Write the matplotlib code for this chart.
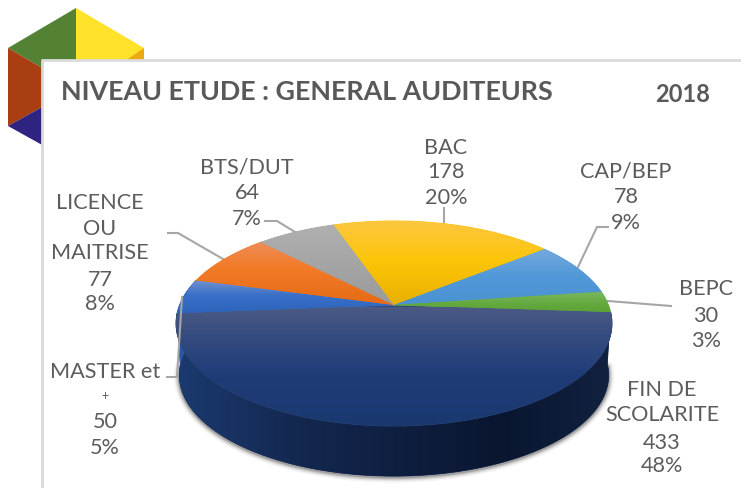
import numpy as np
import matplotlib
matplotlib.use("Agg")
import matplotlib.pyplot as plt
from matplotlib.patches import Polygon
from matplotlib.colors import LinearSegmentedColormap

categories = ["FIN DE\nSCOLARITE", "MASTER et\n+", "LICENCE\nOU\nMAITRISE", "BTS/DUT", "BAC", "CAP/BEP", "BEPC"]
values = [433, 50, 77, 64, 178, 78, 30]
percent_labels = ["48%", "5%", "8%", "7%", "20%", "9%", "3%"]
title = "NIVEAU ETUDE : GENERAL AUDITEURS"
year = "2018"

W, H = 741, 489
plt.rcParams['font.family'] = ['Lato', 'DejaVu Sans']
fig = plt.figure(figsize=(W / 100, H / 100), dpi=100, facecolor='white')
ax = fig.add_axes([0, 0, 1, 1])
ax.set_xlim(0, W); ax.set_ylim(H, 0); ax.axis('off')

# --- decorative hexagon behind the card
for pts, c in [
    ([(76, 9), (144, 49), (144, 62), (76, 62)], '#FFE229'),
    ([(125, 62), (144, 49), (144, 62)], '#EBAA14'),
    ([(76, 9), (8, 49), (44, 70), (76, 62)], '#548235'),
    ([(8, 49), (8, 127), (44, 107), (44, 70)], '#A83E12'),
    ([(8, 127), (44, 107), (44, 147)], '#2E2380'),
]:
    ax.add_patch(Polygon(pts, closed=True, fc=c, ec='none', zorder=1))
ax.add_patch(Polygon([(42, 61), (W, 61), (W, H), (42, H)], closed=True, fc='white', ec='none', zorder=2))
ax.plot([42, 42], [H, 61], color='#d9d9d9', lw=2.0, zorder=3, solid_capstyle='butt')
ax.plot([41, W], [61, 61], color='#dcdcdc', lw=2.0, zorder=3, solid_capstyle='butt')

# --- perspective pie geometry
CX, CY, A, B, P = 394.0, 306.0, 214.4, 99.2, 0.18
DY, S = 52.0, 0.985
START = -4.0

def rim(theta, depth=False):
    t = np.radians(theta)
    w = 1 + P * np.sin(t)
    x = A * np.cos(t) / w
    y = B * np.sin(t) / w
    if depth:
        return CX + S * x, CY + DY - S * y
    return CX + x, CY - y

total = sum(values)
spans = [v / total * 360 for v in values]
edges = START - np.concatenate([[0], np.cumsum(spans)])

def gradient(stops, vertical, lo, hi, clip, z):
    pos = [float(np.clip((s[0] - lo) / (hi - lo), 0, 1)) for s in stops]
    cols = [s[1] for s in stops]
    if pos[0] > 0:
        pos = [0.0] + pos; cols = [cols[0]] + cols
    if pos[-1] < 1:
        pos = pos + [1.0]; cols = cols + [cols[-1]]
    cmap = LinearSegmentedColormap.from_list('g', list(zip(pos, cols)))
    g = np.linspace(0, 1, 256)
    arr = g[:, None] if vertical else g[None, :]
    im = ax.imshow(arr, cmap=cmap, vmin=0, vmax=1, aspect='auto', origin='upper',
                   extent=(0, W, hi, lo) if vertical else (lo, hi, H, 0),
                   zorder=z, interpolation='bilinear')
    patch = Polygon(clip, closed=True, transform=ax.transData, fc='none', ec='none')
    ax.add_patch(patch)
    im.set_clip_path(patch)

# --- soft shadow under the body
th = np.linspace(-175, -5, 200)
sx, sy = rim(th, True)
for lw, a in [(11, .05), (8, .08), (6, .10), (4, .14), (2.5, .2)]:
    ax.plot(sx, sy + 1, color='#303030', lw=lw * .72, alpha=a, zorder=4, solid_capstyle='round')

# --- side walls (only the front wedges show)
side_stops = [
    [(176, '#1b3a70'), (300, '#13274f'), (500, '#0a1630'), (612, '#11213f')],
    [(176, '#2a5cae'), (190, '#264f98')],
]
for i in range(len(side_stops)):
    th = np.linspace(edges[i], edges[i + 1], 120)
    x1, y1 = rim(th); x2, y2 = rim(th, True)
    pts = np.column_stack([np.r_[x1, x2[::-1]], np.r_[y1, y2[::-1]]])
    ax.add_patch(Polygon(pts, closed=True, fc=side_stops[i][1][1], ec=side_stops[i][1][1], lw=.5, zorder=4.5))
    gradient(side_stops[i], False, 170, 620, pts, 5)

# --- top face gradients
top_stops = [
    [(308, '#4b5a84'), (345, '#30487e'), (378, '#1f3c78'), (430, '#1a386f')],
    [(282, '#6f90cf'), (296, '#3a70c8'), (316, '#2b62ba')],
    [(244, '#ee8c55'), (270, '#f27a26'), (306, '#e66a16')],
    [(226, '#b0b0b0'), (265, '#a5a5a5'), (306, '#9a9a9a')],
    [(222, '#fcc740'), (262, '#fdc508'), (306, '#e8b000')],
    [(250, '#74a9dd'), (278, '#5098d8'), (306, '#4a92d0')],
    [(292, '#7cb860'), (306, '#62a83c'), (313, '#5ea236')],
]
for i in range(len(values)):
    th = np.linspace(edges[i], edges[i + 1], 160)
    x, y = rim(th)
    pts = np.column_stack([np.r_[CX, x], np.r_[CY, y]])
    ys = [s[0] for s in top_stops[i]]
    mid = top_stops[i][1][1]
    ax.add_patch(Polygon(pts, closed=True, fc=mid, ec=mid, lw=.6, zorder=5.5))
    gradient(top_stops[i], True, ys[0], ys[-1], pts, 6)

# --- leader lines
GR = '#a6a6a6'
for xs, ys, z in [
    ([265, 277, 295], [222, 222, 233], 4),
    ([168, 178, 223], [234, 234, 260], 4),
    ([444, 444], [209, 225], 4),
    ([608, 597, 578], [228, 228, 268], 4),
    ([671, 608], [307, 302], 4),
    ([167, 177, 182], [378, 378, 298], 8),
]:
    ax.plot(xs, ys, color=GR, lw=1.5, zorder=z, solid_joinstyle='miter')

# --- text
TC = '#595959'
ax.text(61, 91.5, title, fontsize=19.4, fontweight='bold', color=TC, ha='left', va='center', zorder=9)
ax.text(710, 95, year, fontsize=17, fontweight='bold', color=TC, ha='right', va='center', zorder=9)

label_lines = {
    0: (662, [389, 414, 442, 465]),
    1: (105, [371, 395, 421, 447]),
    2: (100, [202, 228, 252, 279, 303]),
    3: (247, [166, 192, 218]),
    4: (446, [147, 171, 197]),
    5: (626, [170, 196, 222]),
    6: (706, [288, 315, 340]),
}
for i, cat in enumerate(categories):
    cx, ys = label_lines[i]
    lines = cat.split('\n') + [str(values[i]), percent_labels[i]]
    for ln, yy in zip(lines, ys):
        fs = 9 if ln == '+' else 15.6
        ax.text(cx, yy + 1, ln, fontsize=fs, fontweight='normal', color='#5c5c5c', ha='center', va='center', zorder=9)

ax.set_xlim(0, W); ax.set_ylim(H, 0)
fig.savefig('out.png', dpi=100, facecolor='white')
